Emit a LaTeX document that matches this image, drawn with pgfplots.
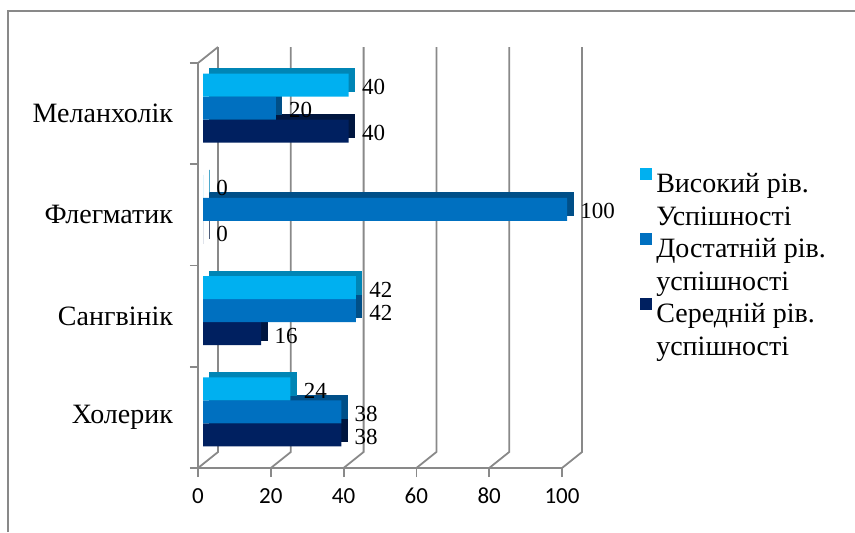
\documentclass[border=0pt]{standalone}
\usepackage{pgfplots}
\usepackage{pgfplotstable}
\pgfplotsset{compat=1.18}
\usepackage{fontspec}
\setmainfont{Liberation Serif}
\newfontfamily\tickfont{Carlito}
\definecolor{gridc}{HTML}{898989}
\definecolor{hiF}{HTML}{00B0F0}
\definecolor{hiS}{HTML}{0085B5}
\definecolor{midF}{HTML}{0070C0}
\definecolor{midS}{HTML}{004F88}
\definecolor{lowF}{HTML}{002060}
\definecolor{lowS}{HTML}{00163F}
\pgfplotstableread{
cat hi mid low
0 24 38 38
1 42 42 16
2 0 100 0
3 40 20 40
}\data
\begin{document}
\begin{tikzpicture}
\useasboundingbox (0,0) rectangle (427.5pt,266pt);
\draw[gridc, line width=1pt] (4pt,0pt) -- (4pt,260.5pt) -- (427.5pt,260.5pt);
\begin{axis}[
  at={(99pt,32pt)}, anchor=south west,
  scale only axis, width=182pt, height=202.5pt,
  xmin=0, xmax=100, ymin=-0.5, ymax=3.5,
  clip=false,
  axis lines*=left,
  axis line style={gridc, line width=0.9pt, -},
  tick align=outside,
  xtick={0,20,40,60,80,100},
  major x tick style={gridc, line width=0.9pt},
  major tick length=4.5pt,
  ytick={0,1,2,3},
  yticklabels={Холерик,Сангвінік,Флегматик,Меланхолік},
  major y tick style={draw=none},
  minor ytick={-0.5,0.5,1.5,2.5,3.5},
  minor y tick style={gridc, line width=0.9pt},
  minor tick length=4pt,
  yticklabel style={font=\fontsize{14}{16.5}\selectfont, xshift=-4.5pt},
  xticklabel style={font=\tickfont\fontsize{11.5}{13}\selectfont, yshift=-2pt},
  /pgf/number format/assume math mode=true,
  xbar, bar width=11.5pt,
  legend image code/.code={\path[#1, draw=none] (0pt,1.5pt) rectangle (6pt,7.5pt);},
  legend style={at={(1.214,0.748)}, anchor=north west, draw=none, fill=none,
    inner sep=0pt, font=\fontsize{14}{16.5}\selectfont, row sep=15.5pt,
    column sep=0pt},
  legend cell align=left,
]
\pgfplotsinvokeforeach{0,20,40,60,80,100}{
  \draw[gridc, line width=0.9pt] (axis cs:#1,-0.5) -- ++(10pt,8pt) -- ([shift={(10pt,8pt)}]axis cs:#1,3.5);
}
\draw[gridc, line width=0.9pt] (axis cs:0,3.5) -- ++(10pt,8pt);
% back (3D depth) copies
\addplot[forget plot, fill=lowS, draw=lowS, line width=0.4pt, bar shift=-11.5pt, xshift=5.5pt, yshift=5.25pt] table[x=low, y=cat] {\data};
\addplot[forget plot, fill=midS, draw=midS, line width=0.4pt, bar shift=0pt, xshift=5.5pt, yshift=5.25pt] table[x=mid, y=cat] {\data};
\addplot[forget plot, fill=hiS, draw=hiS, line width=0.4pt, bar shift=11.5pt, xshift=5.5pt, yshift=5.25pt] table[x=hi, y=cat] {\data};
% front faces
\pgfplotsset{every node near coord/.append style={font=\fontsize{11.5}{13}\selectfont, text=black, anchor=west, inner sep=0pt, xshift=6.5pt, yshift=-1pt}}
\addplot[forget plot, fill=lowF, draw=none, bar shift=-11.5pt, xshift=2.5pt, yshift=2.75pt, point meta=x, nodes near coords] table[x=low, y=cat] {\data};
\addplot[forget plot, fill=midF, draw=none, bar shift=0pt, xshift=2.5pt, yshift=2.75pt, point meta=x, nodes near coords] table[x=mid, y=cat] {\data};
\addplot[forget plot, fill=hiF, draw=none, bar shift=11.5pt, xshift=2.5pt, yshift=2.75pt, point meta=x, nodes near coords] table[x=hi, y=cat] {\data};
\addlegendimage{fill=hiF}
\addlegendentry{\begin{tabular}[t]{@{}l@{}}Високий рів.\\Успішності\end{tabular}}
\addlegendimage{fill=midF}
\addlegendentry{\begin{tabular}[t]{@{}l@{}}Достатній рів.\\успішності\end{tabular}}
\addlegendimage{fill=lowF}
\addlegendentry{\begin{tabular}[t]{@{}l@{}}Середній рів.\\успішності\end{tabular}}
\end{axis}
\end{tikzpicture}
\end{document}
